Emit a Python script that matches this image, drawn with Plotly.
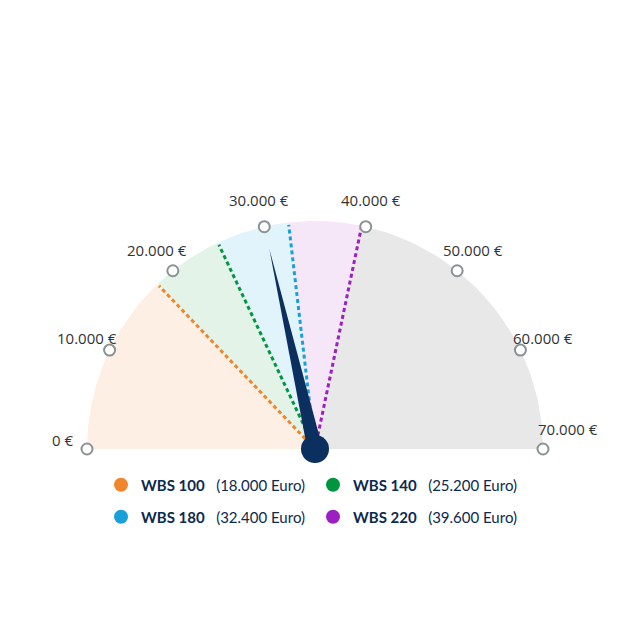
import numpy as np
import plotly.graph_objects as go

# gauge data
gauge_max = 70000
needle_value = 30000
tick_values = [0, 10000, 20000, 30000, 40000, 50000, 60000, 70000]
thresholds = [18000, 25200, 32400, 39600]
names = ['WBS 100', 'WBS 140', 'WBS 180', 'WBS 220']
amount_labels = ['18.000 Euro', '25.200 Euro', '32.400 Euro', '39.600 Euro']

line_colors = ['#f0852a', '#00963f', '#199fda', '#9b1fc1']
band_colors = ['#fdefe4', '#e3f3e8', '#e2f4fb', '#f5e6f8', '#e8e8e8']
navy = '#0b2f5e'

W = H = 605  # page body keeps an 8px margin


def angle(v):
    return np.pi * (1 - v / gauge_max)


def polar_xy(v, r):
    a = angle(np.asarray(v, dtype=float))
    return r * np.cos(a), r * np.sin(a)


fig = go.Figure()

# coloured bands
edges = [0] + thresholds + [gauge_max]
for i in range(len(edges) - 1):
    arc = np.linspace(edges[i], edges[i + 1], 60)
    ax, ay = polar_xy(arc, 1.0)
    fig.add_trace(go.Scatter(
        x=np.concatenate([[0], ax, [0]]),
        y=np.concatenate([[0], ay, [0]]),
        mode='lines', fill='toself', fillcolor=band_colors[i],
        line=dict(width=0, color=band_colors[i]),
        showlegend=False, hoverinfo='skip'
    ))

# dotted threshold lines
for i, t in enumerate(thresholds):
    lx, ly = polar_xy([t, t], np.array([0.0, 0.99]))
    fig.add_trace(go.Scatter(
        x=lx, y=ly, mode='lines',
        line=dict(color=line_colors[i], width=3, dash='4px,3px'),
        showlegend=False, hoverinfo='skip'
    ))

# tick markers on the rim
tx, ty = polar_xy(tick_values, 1.0)
fig.add_trace(go.Scatter(
    x=tx, y=ty, mode='markers',
    marker=dict(size=11, color='white', line=dict(color='#8a9294', width=2)),
    showlegend=False, hoverinfo='skip'
))

# needle
a = angle(needle_value)
hw = 0.033
tip_x, tip_y = polar_xy(needle_value, 0.9)
fig.add_trace(go.Scatter(
    x=[tip_x, -np.sin(a) * hw, np.sin(a) * hw, tip_x],
    y=[tip_y, np.cos(a) * hw, -np.cos(a) * hw, tip_y],
    mode='lines', fill='toself', fillcolor=navy,
    line=dict(width=0, color=navy),
    showlegend=False, hoverinfo='skip'
))
fig.add_trace(go.Scatter(
    x=[0], y=[0], mode='markers',
    marker=dict(size=28, color=navy),
    showlegend=False, hoverinfo='skip'
))

# legend entries
for i, name in enumerate(names):
    fig.add_trace(go.Scatter(
        x=[None], y=[None], mode='markers',
        marker=dict(size=14, color=line_colors[i]),
        name=f'<b>{name}</b>&nbsp;&nbsp; ({amount_labels[i]})',
        legend='legend' if i < 2 else 'legend2'
    ))

# tick labels
annotations = []
for v, x, y in zip(tick_values, tx, ty):
    a = angle(v)
    xs = 25 * np.cos(a)
    ys = max(27 * np.sin(a), 9)
    if v == gauge_max:
        ys = 20
    annotations.append(dict(
        x=x, y=y, xref='x', yref='y',
        text=f'{v:,}'.replace(',', '.') + ' €',
        showarrow=False, xshift=xs, yshift=ys,
        xanchor='center', yanchor='middle',
        font=dict(family='Open Sans', size=15, color='#333333')
    ))

legend_style = dict(
    orientation='h', xanchor='left', yanchor='middle', x=93 / W,
    entrywidth=167, entrywidthmode='pixels',
    font=dict(family='Lato', size=15, color='#0b2a4e'),
    bgcolor='rgba(0,0,0,0)', itemsizing='trace'
)

# center of the gauge at (307, 441) px, radius 228 px
fig.update_layout(
    width=W, height=H,
    margin=dict(l=0, r=0, t=0, b=0),
    paper_bgcolor='white', plot_bgcolor='white',
    xaxis=dict(range=[-307 / 228, (W - 307) / 228], visible=False, fixedrange=True),
    yaxis=dict(range=[-(H - 441) / 228, 441 / 228], visible=False, fixedrange=True),
    annotations=annotations,
    legend=dict(legend_style, y=1 - 477 / H),
    legend2=dict(legend_style, y=1 - 509 / H),
    hovermode=False,
)

fig.write_html('out.html')
